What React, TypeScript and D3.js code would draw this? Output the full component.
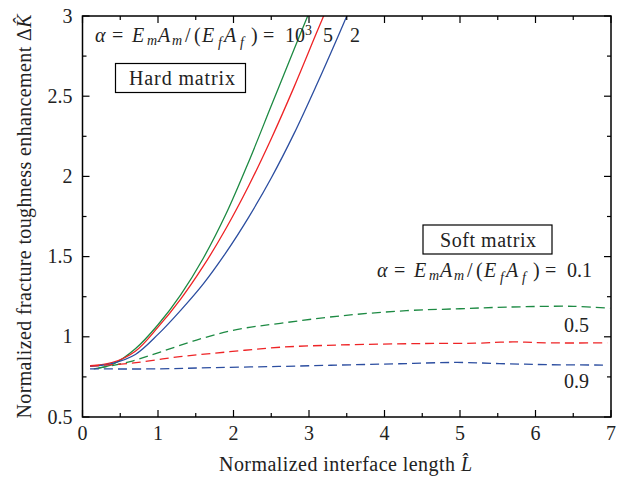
import * as d3 from "d3";

type Pt = [number, number];

// solid curves: hard matrix, alpha = 10^3, 5, 2
const hardGreen: Pt[] = [
  [0.15, 0.8], [0.4, 0.828], [0.7, 0.925], [1.0, 1.075], [1.3, 1.262], [1.6, 1.49],
  [1.9, 1.765], [2.2, 2.09], [2.5, 2.44], [2.8, 2.79], [3.0, 3.02],
];
const hardRed: Pt[] = [
  [0.1, 0.82], [0.4, 0.84], [0.7, 0.91], [1.0, 1.06], [1.3, 1.235], [1.6, 1.44],
  [1.9, 1.675], [2.2, 1.94], [2.5, 2.235], [2.8, 2.555], [3.1, 2.895], [3.3, 3.12],
];
const hardBlue: Pt[] = [
  [0.1, 0.815], [0.4, 0.835], [0.7, 0.89], [1.0, 1.015], [1.3, 1.165], [1.6, 1.33],
  [1.9, 1.525], [2.2, 1.745], [2.5, 1.99], [2.8, 2.265], [3.1, 2.57], [3.4, 2.89],
  [3.6, 3.11],
];
// dashed curves: soft matrix, alpha = 0.1, 0.5, 0.9
const softGreen: Pt[] = [
  [0.21, 0.805], [0.63, 0.845], [1.03, 0.905], [1.51, 0.98], [2.04, 1.045], [2.62, 1.084],
  [3.41, 1.13], [4.29, 1.163], [5.0, 1.175], [5.62, 1.185], [6.5, 1.19], [6.99, 1.178],
];
const softRed: Pt[] = [
  [0.1, 0.818], [0.63, 0.835], [1.29, 0.876], [1.95, 0.907], [2.62, 0.935], [3.41, 0.949],
  [4.51, 0.958], [5.2, 0.96], [5.7, 0.968], [6.2, 0.962], [6.95, 0.962],
];
const softBlue: Pt[] = [
  [0.1, 0.8], [1.0, 0.8], [1.73, 0.808], [2.6, 0.815], [3.41, 0.824], [4.2, 0.832],
  [4.96, 0.84], [5.6, 0.832], [6.2, 0.826], [6.9, 0.824],
];

const xTicks = [0, 1, 2, 3, 4, 5, 6, 7];
const yTicks = [0.5, 1, 1.5, 2, 2.5, 3];

const GREEN = "#1d8a43";
const RED = "#ee2426";
const BLUE = "#2c4ea0";
const FONT = "Liberation Serif";
const INK = "#222";

const series = [
  { data: hardGreen, color: GREEN, dashed: false },
  { data: hardRed, color: RED, dashed: false },
  { data: hardBlue, color: BLUE, dashed: false },
  { data: softGreen, color: GREEN, dashed: true },
  { data: softRed, color: RED, dashed: true },
  { data: softBlue, color: BLUE, dashed: true },
];

// alpha = EmAm/(EfAf) = ..., tokens laid out one by one
function Alpha({ x, y, value, sup }: { x: number; y: number; value: string; sup?: string }) {
  const toks: [string, number, boolean, number, number][] = [
    // text, dx, italic, dy, size
    ["α", 0, true, 0, 20],
    ["=", 17, false, 0, 20],
    ["E", 37, true, 0, 20],
    ["m", 52, true, 3, 14],
    ["A", 63, true, 0, 20],
    ["m", 77, true, 3, 14],
    ["/", 90, false, 0, 20],
    ["(", 99, false, 0, 20],
    ["E", 107, true, 0, 20],
    ["f", 123, true, 5, 14],
    ["A", 129, true, 0, 20],
    ["f", 145, true, 5, 14],
    [")", 156, false, 0, 20],
    ["=", 168, false, 0, 20],
    [value, 190, false, 0, 20],
  ];
  return (
    <g fontFamily={FONT} fill={INK}>
      {toks.map(([t, dx, it, dy, size], i) => (
        <text key={i} x={x + dx} y={y + dy} fontSize={size} fontStyle={it ? "italic" : "normal"}>
          {t}
        </text>
      ))}
      {sup && (
        <text x={x + 210} y={y - 7} fontSize={14}>
          {sup}
        </text>
      )}
    </g>
  );
}

export default function App() {
  const width = 632;
  const height = 481;
  const left = 82.5;
  const right = 611;
  const top = 16;
  const bottom = 417;

  const xScale = d3.scaleLinear().domain([0, 7]).range([left, right]);
  const yScale = d3.scaleLinear().domain([0.5, 3]).range([bottom, top]);

  const line = d3
    .line<Pt>()
    .x((d) => xScale(d[0]))
    .y((d) => yScale(d[1]))
    .curve(d3.curveCatmullRom.alpha(0.5));

  const xMinor = d3.range(0, 7.001, 0.5);
  const yMinor = d3.range(0.5, 3.001, 0.25);
  const txt = { fontFamily: FONT, fontSize: 20 };

  return (
    <div style={{ position: "absolute", left: 0, top: 0 }}>
      <svg width={width} height={height} style={{ display: "block", background: "#fff" }}>
        <defs>
          <clipPath id="plot">
            <rect x={left} y={top} width={right - left} height={bottom - top} />
          </clipPath>
        </defs>

        <g clipPath="url(#plot)">
          {series.map((s, i) => (
            <path
              key={i}
              d={line(s.data) ?? ""}
              fill="none"
              stroke={s.color}
              strokeWidth={1.3}
              strokeDasharray={s.dashed ? "9,5" : undefined}
            />
          ))}
        </g>

        {/* ticks on all four sides, inward */}
        <g stroke="#000" strokeWidth={1.2}>
          {xMinor.map((v) => {
            const len = Number.isInteger(v) ? 7 : 4;
            const x = xScale(v);
            return (
              <g key={"x" + v}>
                <line x1={x} x2={x} y1={bottom} y2={bottom - len} />
                <line x1={x} x2={x} y1={top} y2={top + len} />
              </g>
            );
          })}
          {yMinor.map((v) => {
            const len = Math.abs((v * 2) % 1) < 1e-6 ? 7 : 4;
            const y = yScale(v);
            return (
              <g key={"y" + v}>
                <line x1={left} x2={left + len} y1={y} y2={y} />
                <line x1={right} x2={right - len} y1={y} y2={y} />
              </g>
            );
          })}
        </g>
        <rect
          x={left}
          y={top}
          width={right - left}
          height={bottom - top}
          fill="none"
          stroke="#000"
          strokeWidth={1.5}
        />

        <g style={txt} fill={INK}>
          {xTicks.map((v) => (
            <text key={v} x={xScale(v)} y={bottom + 23} textAnchor="middle">
              {v}
            </text>
          ))}
          {yTicks.map((v) => (
            <text key={v} x={left - 10} y={yScale(v) + 6.5} textAnchor="end">
              {v}
            </text>
          ))}
        </g>

        <text x={219} y={471} style={txt} fill={INK} textLength={253} lengthAdjust="spacing">
          Normalized interface length <tspan fontStyle="italic">L̂</tspan>
        </text>
        <text
          transform={`translate(31, ${(top + bottom) / 2}) rotate(-90)`}
          textAnchor="middle"
          style={txt}
          fill={INK}
          textLength={404}
          lengthAdjust="spacing"
        >
          Normalized fracture toughness enhancement Δ<tspan fontStyle="italic">K̂</tspan>
        </text>

        <Alpha x={95} y={42} value="10" sup="3" />
        <text x={323} y={42} style={txt} fill={INK}>5</text>
        <text x={350} y={42} style={txt} fill={INK}>2</text>

        <rect x={115.5} y={63.5} width={130} height={29} fill="#fff" stroke="#000" strokeWidth={1.2} />
        <text x={129} y={85} style={txt} fill={INK} textLength={106} lengthAdjust="spacing">
          Hard matrix
        </text>

        <rect x={423} y={225} width={129} height={29} fill="#fff" stroke="#000" strokeWidth={1.2} />
        <text x={440} y={246.5} style={txt} fill={INK} textLength={96} lengthAdjust="spacing">
          Soft matrix
        </text>
        <Alpha x={377} y={277} value="0.1" />

        <text x={564} y={331.5} style={txt} fill={INK}>0.5</text>
        <text x={564} y={388} style={txt} fill={INK}>0.9</text>
      </svg>
    </div>
  );
}
